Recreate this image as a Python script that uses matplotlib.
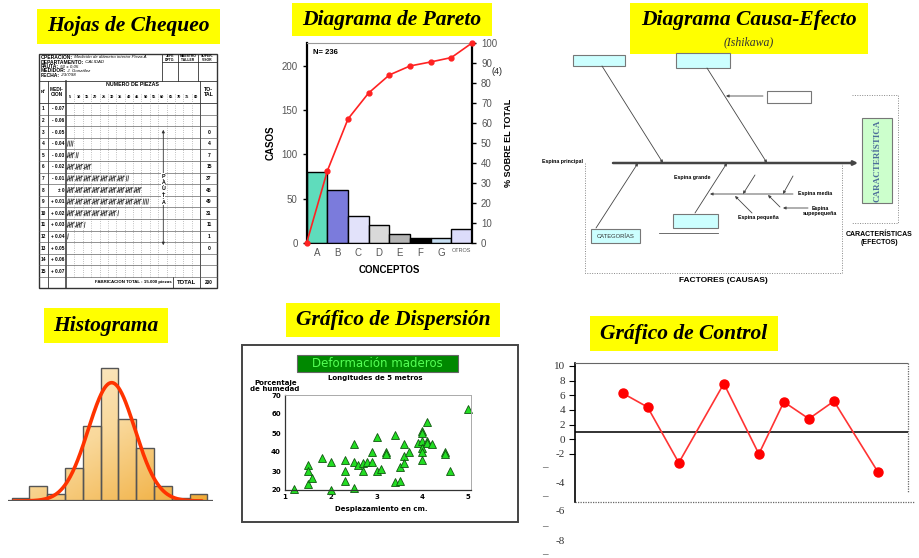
import numpy as np
import matplotlib
matplotlib.use("Agg")
import matplotlib.pyplot as plt
from matplotlib.patches import Rectangle
from matplotlib.colors import LinearSegmentedColormap

W, H = 919, 558

# --- hoja de chequeo ---
mediciones = ["- 0.07", "- 0.06", "- 0.05", "- 0.04", "- 0.03", "- 0.02", "- 0.01", "± 0",
              "+ 0.01", "+ 0.02", "+ 0.03", "+ 0.04", "+ 0.05", "+ 0.06", "+ 0.07"]
totales_hoja = [None, None, 0, 4, 7, 15, 37, 45, 49, 31, 11, 1, 0, None, None]
columnas_piezas = [5, 10, 15, 20, 25, 30, 35, 40, 45, 50, 55, 60, 65, 70, 75, 80]
total_hoja = 200

# --- pareto ---
conceptos = ["A", "B", "C", "D", "E", "F", "G", "OTROS"]
casos = [80, 60, 30, 20, 10, 5, 5, 15]
pct_acumulado = [0, 36, 62, 75, 84, 88.5, 90.5, 92.7, 100]
colores_pareto = ["#5fdcbc", "#7b7bdc", "#e2e2fa", "#d9d9d9", "#b4b4b4", "#000000", "#c6def2", "#dcdcfa"]

# --- histograma ---
frecuencias = [1, 4.5, 2, 10, 22.5, 40, 24.5, 16, 4.5, 1, 2]
media_normal, sigma_normal, pico_normal = 5.12, 1.31, 35.5

# --- dispersion ---
desplazamiento = [1.2, 1.5, 1.5, 1.5, 1.6, 1.8, 2.0, 2.0, 2.3, 2.3, 2.3, 2.5, 2.5, 2.5, 2.6, 2.7,
                  2.7, 2.8, 2.9, 2.9, 3.0, 3.0, 3.1, 3.2, 3.2, 3.4, 3.4, 3.5, 3.5, 3.6, 3.6, 3.6,
                  3.7, 3.9, 4.0, 4.0, 4.0, 4.0, 4.0, 4.0, 4.1, 4.1, 4.1, 4.2, 4.5, 4.5, 4.6, 5.0]
humedad = [20.5, 33, 30, 23, 26.5, 37, 35, 20, 36, 30, 25, 44, 35, 21, 33, 34,
           30, 35, 40, 35, 48, 30, 31, 40, 39, 49, 24, 25, 32, 44, 38, 34,
           40, 45, 51, 50, 46, 42, 40, 36, 56, 46, 45, 44, 40, 39, 30, 62.5]

# --- control ---
muestras = [1.9, 2.9, 4.15, 5.95, 7.35, 8.35, 9.35, 10.35, 12.1]
valores_control = [6.3, 4.4, -3.2, 7.6, -2.0, 5.1, 2.8, 5.2, -4.4]
linea_central = 1.0

SERIF = "Liberation Serif"
SANS = "Liberation Sans"

fig = plt.figure(figsize=(W / 100, H / 100), dpi=100)
fig.patch.set_facecolor("white")

bg = fig.add_axes([0, 0, 1, 1])
bg.set_xlim(0, W)
bg.set_ylim(H, 0)
bg.axis("off")


def px_axes(x0, y0, x1, y1):
    return fig.add_axes([x0 / W, 1 - y1 / H, (x1 - x0) / W, (y1 - y0) / H])


def titulo(x0, y0, x1, y1, texto, size=15.5, ty=None):
    bg.add_patch(Rectangle((x0, y0), x1 - x0, y1 - y0, facecolor="#ffff00", edgecolor="none"))
    bg.text((x0 + x1) / 2, ty if ty else (y0 + y1) / 2, texto, ha="center", va="center",
            fontsize=size, family=SERIF, weight="bold", style="italic")


titulo(37, 9, 220, 44, "Hojas de Chequeo")
titulo(292, 3, 492, 36, "Diagrama de Pareto")
titulo(630, 3, 868, 54, "Diagrama Causa-Efecto", ty=20)
bg.text(749, 42, "(Ishikawa)", ha="center", va="center", fontsize=8.5, family=SERIF,
        style="italic", color="#333333")
titulo(44, 308, 168, 343, "Histograma")
titulo(286, 303, 500, 337, "Gráfico de Dispersión")
titulo(590, 316, 778, 351, "Gráfico de Control")

# ================= hoja de chequeo =================
L, R, T, B = 39, 217, 54, 288
k = dict(color="#333333", lw=0.6)
bg.add_patch(Rectangle((L, T), R - L, B - T, facecolor="none", edgecolor="#333333", lw=1))
bg.plot([L, R], [81, 81], **k)
bg.plot([L, R], [103, 103], **k)
for xv in [162, 178, 198]:
    bg.plot([xv, xv], [T, 81], **k)
bg.plot([162, R], [62, 62], **k)
for xv in [48, 66, 200]:
    bg.plot([xv, xv], [81, B], color="#333333", lw=0.6 if xv != 66 else 1.1)
bg.plot([173, 173], [277, B], **k)
enc = [("OPERACION:", " Medición de diámetro interior Pieza A", 57.5),
       ("DEPARTAMENTO:", " CALIDAD", 62),
       ("PAUTA:", " 50 ± 0,05", 66.5),
       ("MEDIDOR:", " J. González", 71),
       ("FECHA:", " 23/7/98", 75.5)]
for lab, val, yy in enc:
    t = bg.text(41, yy, lab, fontsize=3.6, weight="bold", family=SANS, va="center")
    bg.annotate(val, xy=(1, 0.5), xycoords=t, va="center", fontsize=3.2,
                style="italic", family=SANS)
for xc, lab in [(170, "JEFE\nDPTO."), (188, "MAESTRO\nTALLER"), (207.5, "SUPER-\nVISOR")]:
    bg.text(xc, 58, lab, ha="center", va="center", fontsize=2.4, weight="bold",
            family=SANS, linespacing=0.9)
bg.text(43.5, 92, "Nº", ha="center", va="center", fontsize=3.2, weight="bold", family=SANS)
bg.text(57, 92, "MEDI-\nCION", ha="center", va="center", fontsize=3.4, weight="bold",
        family=SANS, linespacing=1.1)
bg.text(208.5, 92, "TO-\nTAL", ha="center", va="center", fontsize=3.8, weight="bold",
        family=SANS, linespacing=1.1)
bg.text(133, 85, "NUMERO DE PIEZAS", ha="center", va="center", fontsize=3.8,
        weight="bold", family=SANS)
col_w = (200 - 66) / 16
for j, c in enumerate(columnas_piezas):
    bg.text(66 + (j + 0.5) * col_w, 97, str(c), ha="center", va="center",
            fontsize=2.8, weight="bold", family=SANS)
for j in range(1, 16):
    xv = 66 + j * col_w
    bg.plot([xv, xv], [94, 277], color="#888888", lw=0.5, ls=(0, (1, 2.2)))
row_h = (277 - 103) / 15
for i, m in enumerate(mediciones):
    y0 = 103 + i * row_h
    yc = y0 + row_h / 2
    bg.plot([L, R], [y0 + row_h, y0 + row_h], color="#555555", lw=0.45)
    bg.text(43.5, yc, str(i + 1), ha="center", va="center", fontsize=3.4, weight="bold",
            family=SANS)
    bg.text(64.5, yc, m, ha="right", va="center", fontsize=3.4, weight="bold", family=SANS)
    n = totales_hoja[i]
    if n is None:
        continue
    bg.text(209, yc, str(n), ha="center", va="center", fontsize=3.6, weight="bold",
            family=SANS)
    # marcas de conteo en grupos de cinco
    grupos, resto = divmod(n, 5)
    for g in range(grupos):
        x0 = 66.6 + g * col_w
        for q in range(4):
            xx = x0 + 1.0 + q * 1.6
            bg.plot([xx, xx + 0.7], [yc + 2.6, yc - 2.6], color="#222222", lw=0.5)
        bg.plot([x0 + 0.2, x0 + col_w - 0.6], [yc + 1.8, yc - 2.4], color="#222222", lw=0.5)
    for q in range(resto):
        xx = 66.6 + grupos * col_w + 1.0 + q * 1.6
        bg.plot([xx, xx + 0.7], [yc + 2.6, yc - 2.6], color="#222222", lw=0.5)
bg.annotate("", xy=(163.3, 127), xytext=(163.3, 248),
            arrowprops=dict(arrowstyle="<|-|>", color="#333333", lw=0.6, mutation_scale=4))
for q, ch in enumerate("PAUTA"):
    bg.text(163.3, 176 + q * 6.5, ch, ha="center", va="center", fontsize=3.8, weight="bold",
            family=SANS, bbox=dict(facecolor="white", edgecolor="none", pad=0.2))
bg.text(133, 282.5, "FABRICACION TOTAL : 15.000 piezas", ha="center", va="center",
        fontsize=3.2, weight="bold", family=SANS)
bg.text(187, 282.5, "TOTAL", ha="center", va="center", fontsize=4.2, weight="bold", family=SANS)
bg.text(209, 282.5, str(total_hoja), ha="center", va="center", fontsize=3.4, weight="bold",
        family=SANS)

# ================= pareto =================
ax = px_axes(306.7, 43, 472, 242.7)
xs = np.arange(len(casos))
ax.bar(xs, casos, width=1, color=colores_pareto, edgecolor="black", lw=1, zorder=2)
ax.set_xlim(-0.5, len(casos) - 0.5)
ax.set_ylim(0, 226)
ax.set_yticks([0, 50, 100, 150, 200])
ax.set_xticks(xs)
ax.set_xticklabels(conceptos)
ax.tick_params(axis="x", length=0, labelsize=7, labelcolor="#555555", pad=4)
ax.tick_params(axis="y", length=3, labelsize=7, labelcolor="#555555", width=1)
for lab in ax.get_xticklabels() + ax.get_yticklabels():
    lab.set_family(SANS)
ax.get_xticklabels()[-1].set_fontsize(4)
ax.spines["left"].set_linewidth(1.6)
ax.spines["top"].set_color("#999999")
ax.spines["right"].set_visible(False)
ax.spines["bottom"].set_linewidth(0.8)
ax.set_ylabel("CASOS", fontsize=7, weight="bold", family=SANS, labelpad=4)
ax.set_xlabel("CONCEPTOS", fontsize=7, weight="bold", family=SANS, labelpad=5)
ax.text(0.04, 0.95, "N= 236", transform=ax.transAxes, fontsize=5.5, weight="bold",
        family=SANS, va="center")
ax.set_facecolor("none")
ax2 = ax.twinx()
ax2.plot(np.arange(len(pct_acumulado)) - 0.5, pct_acumulado, color="#ff2222", lw=1.2,
         marker="o", ms=3.5, clip_on=False, zorder=3)
ax2.set_ylim(0, 100)
ax2.set_yticks(range(0, 101, 10))
ax2.tick_params(axis="y", length=3, labelsize=7, labelcolor="#555555", width=1)
for lab in ax2.get_yticklabels():
    lab.set_family(SANS)
for s in ["left", "top", "bottom"]:
    ax2.spines[s].set_visible(False)
ax2.spines["right"].set_linewidth(1.6)
ax2.set_ylabel("% SOBRE EL TOTAL", fontsize=6.5, weight="bold", family=SANS, labelpad=5)
bg.text(497, 72, "(4)", fontsize=6.5, family=SANS, ha="center", va="center", color="#222222")

# ================= ishikawa =================
kl = dict(color="#555555", lw=0.6)


def caja(x0, y0, x1, y1, fc="#ccffff", ec="#777777"):
    bg.add_patch(Rectangle((x0, y0), x1 - x0, y1 - y0, facecolor=fc, edgecolor=ec, lw=0.8))


def flecha(x0, y0, x1, y1, lw=0.6, ms=4):
    bg.annotate("", xy=(x1, y1), xytext=(x0, y0),
                arrowprops=dict(arrowstyle="-|>", color="#444444", lw=lw, mutation_scale=ms,
                                shrinkA=0, shrinkB=0))


caja(573, 55, 625, 66)
caja(676, 53, 730, 68)
caja(767, 91, 811, 103, fc="white")
caja(673, 214, 718, 228)
caja(591, 229, 640, 243)
caja(862, 118, 892, 203, fc="#ccffcc")
bg.text(877, 160.5, "CARACTERÍSTICA", rotation=90, ha="center", va="center", fontsize=6.5,
        family=SERIF, weight="bold", color="#4d6e99")
bg.text(615.5, 236, "CATEGORÍAS", ha="center", va="center", fontsize=4.2, family=SANS,
        color="#333333")
flecha(613, 163, 858, 163, lw=1.8, ms=6)
flecha(602, 66, 663, 163)
flecha(707, 68, 767, 163)
flecha(763, 96, 726, 96)
flecha(596, 228, 638, 163)
flecha(695, 213, 727, 163)
bg.plot([659, 718], [233, 233], **kl)
flecha(793, 194, 710, 194)
flecha(755, 175, 743, 194)
flecha(793, 176, 783, 194)
flecha(752, 213, 735, 196)
flecha(780, 207, 768, 195)
flecha(808, 208, 783, 208)
ks = dict(fontsize=3.8, weight="bold", family=SANS, va="center")
bg.text(563, 161, "Espina principal", ha="center", **ks)
bg.text(692, 177, "Espina grande", ha="center", **ks)
bg.text(815, 194, "Espina media", ha="center", **ks)
bg.text(758, 217, "Espina pequeña", ha="center", **ks)
bg.text(820, 211, "Espina\nsupepequeña", ha="center", linespacing=1.1, **ks)
kd = dict(color="#888888", lw=0.7, ls=(0, (1, 1.5)))
bg.plot([585, 585, 842, 842], [163, 273, 273, 163], **kd)
bg.plot([852, 898, 898, 852], [95, 95, 223, 223], **kd)
bg.text(879, 238, "CARACTERÍSTICAS\n(EFECTOS)", ha="center", va="center", fontsize=5,
        weight="bold", family=SANS, linespacing=1.2)
bg.text(723, 281, "FACTORES (CAUSAS)", ha="center", va="center", fontsize=6, weight="bold",
        family=SANS)

# ================= histograma =================
ah = px_axes(8, 360, 213, 501)
ah.axis("off")
cmap_hist = LinearSegmentedColormap.from_list("naranja", ["#fdf1d8", "#f9d89a", "#f0aa35"])
gy, gx = np.mgrid[0:1:120j, 0:1:120j]
grad = gx * 0.45 + gy * 0.55
barras = ah.bar(np.arange(len(frecuencias)), frecuencias, width=1, facecolor="none",
                edgecolor="#555555", lw=1, zorder=3)
for b in barras:
    im = ah.imshow(grad, cmap=cmap_hist, extent=[-0.5, 10.5, 0, 42], aspect="auto",
                   origin="upper", zorder=1)
    im.set_clip_path(b)
xn = np.linspace(-0.4, 10.2, 300)
ah.plot(xn, pico_normal * np.exp(-0.5 * ((xn - media_normal) / sigma_normal) ** 2),
        color="#ff3300", lw=2.6, zorder=4, solid_capstyle="round")
ah.axhline(0, color="#555555", lw=1.6, zorder=5)
ah.set_xlim(-0.708, 10.82)
ah.set_ylim(0, 42.3)

# ================= dispersion =================
bg.add_patch(Rectangle((242, 345), 276, 177, facecolor="white", edgecolor="#444444", lw=1.4))
bg.add_patch(Rectangle((297, 355), 161, 17, facecolor="#008800", edgecolor="#666666", lw=0.8))
bg.text(377.5, 363.5, "Deformación maderos", ha="center", va="center", fontsize=8.5,
        family="DejaVu Sans", color="#55ff55")
kb = dict(fontsize=5, weight="bold", family="DejaVu Sans", va="center", ha="center")
bg.text(375, 378, "Longitudes de 5 metros", **kb)
bg.text(276, 383, "Porcentaje", **kb)
bg.text(275, 389, "de humedad", **kb)
bg.text(381, 509, "Desplazamiento en cm.", **kb)
asc = px_axes(285, 395, 471, 490)
asc.plot(desplazamiento, humedad, ls="none", marker="^", ms=6, mfc="#22dd22",
         mec="#115511", mew=0.6, clip_on=False)
asc.set_xlim(1, 5.06)
asc.set_ylim(20, 70)
asc.set_xticks([1, 2, 3, 4, 5])
asc.set_yticks([20, 30, 40, 50, 60, 70])
asc.tick_params(length=0, labelsize=5, pad=3)
for lab in asc.get_xticklabels() + asc.get_yticklabels():
    lab.set_weight("bold")
for s in ["top", "right"]:
    asc.spines[s].set_color("#aaaaaa")
    asc.spines[s].set_linewidth(0.7)
for s in ["left", "bottom"]:
    asc.spines[s].set_color("#333333")
    asc.spines[s].set_linewidth(0.9)
asc.set_facecolor("none")

# ================= control =================
ac = px_axes(575, 362.7, 907.7, 502)
ac.plot(muestras, valores_control, color="#ff3333", lw=1.2, marker="o", ms=6.5,
        mfc="#ff0000", mec="#ff0000", zorder=3)
ac.axhline(linea_central, color="#222222", lw=1.3, zorder=2)
ac.set_xlim(0, 13.3)
ac.set_ylim(-8.55, 10.45)
ac.set_xticks([])
ac.set_yticks([10, 8, 6, 4, 2, 0, -2])
ac.set_yticklabels(["10", "8", "6", "4", "2", "0", "-2"])
ac.tick_params(axis="y", length=4, width=0.8, labelsize=8, pad=3, labelcolor="#333333")
for lab in ac.get_yticklabels():
    lab.set_family(SERIF)
ac.spines["left"].set_linewidth(1.2)
ac.spines["top"].set_linestyle((0, (1, 1)))
ac.spines["top"].set_color("#666666")
ac.spines["right"].set_visible(False)
ac.spines["bottom"].set_visible(False)
ac.set_facecolor("none")
bg.plot([907.7, 907.7], [362.7, 493], color="#666666", lw=0.9, ls=(0, (1, 1)))
bg.plot([575, 915], [502, 502], color="#666666", lw=0.9, ls=(0, (1, 1)))
kc = dict(fontsize=8, family=SERIF, color="#333333", va="center")
for yy, s in [(483, "-4"), (512, "-6"), (542, "-8")]:
    bg.text(565, yy, s, ha="right", **kc)
for yy in [468, 497, 527, 555]:
    bg.text(545, yy, "–", ha="center", **kc)

fig.savefig("out.png", dpi=100)
